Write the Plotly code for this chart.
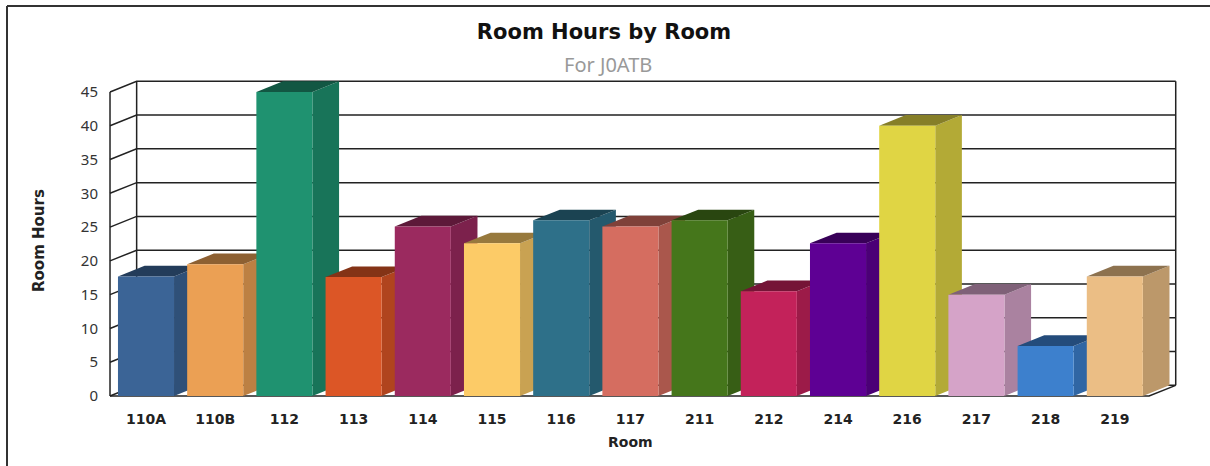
import plotly.graph_objects as go

rooms = ["110A", "110B", "112", "113", "114", "115", "116", "117", "211", "212", "214", "216", "217", "218", "219"]
room_hours = [17.7, 19.5, 45, 17.6, 25.1, 22.6, 26, 25.1, 26, 15.5, 22.6, 40, 15, 7.4, 17.7]
y_ticks = [0, 5, 10, 15, 20, 25, 30, 35, 40, 45]
colors = ["#3B6496", "#EBA054", "#1F9270", "#DC5626", "#9B2A5F", "#FCCB67", "#2E7089", "#D56D60",
          "#45761B", "#C3225A", "#5E0094", "#E0D544", "#D5A3C8", "#3D80CD", "#EBBE85"]

FONT = "DejaVu Sans"
NUM_FONT = "Noto Sans"
INK = "#222222"
DX, DY = 0.385, 1.58      # depth of the 3D projection, in axis units
BAR_W = 0.81
XF, XR = -0.52, 14.88     # front-left corner and back-right corner of the box
X_RANGE = [-0.549, 14.913]
Y_RANGE = [-0.296, 46.92]
PW, PH, ML, MT = 1070, 319, 108, 79


def px(x):
    return (x - ML) / PW


def py(y):
    return 1 + (MT - y) / PH


def shade(hex_color, k):
    r, g, b = (int(hex_color[i:i + 2], 16) for i in (1, 3, 5))
    return f"rgb({int(r * k)},{int(g * k)},{int(b * k)})"


def line(xs, ys):
    return go.Scatter(x=xs, y=ys, mode="lines", line=dict(color=INK, width=1.5),
                      hoverinfo="skip", showlegend=False)


def poly(xs, ys, color):
    return go.Scatter(x=xs, y=ys, mode="lines", fill="toself", fillcolor=color,
                      line=dict(width=0, color=color), hoverinfo="skip", showlegend=False)


fig = go.Figure()

# Box: gridlines with their slanted depth ticks, walls and floor
for v in y_ticks:
    fig.add_trace(line([XF, XF + DX, XR], [v, v + DY, v + DY]))
fig.add_trace(line([XF, XF], [0, y_ticks[-1]]))
fig.add_trace(line([XF + DX, XF + DX], [DY, y_ticks[-1] + DY]))
fig.add_trace(line([XR, XR], [DY, y_ticks[-1] + DY]))
fig.add_trace(line([XF, XR - DX, XR], [0, 0, DY]))

# Side and top faces of each bar, left to right
for i, (v, c) in enumerate(zip(room_hours, colors)):
    xl, xr = i - BAR_W / 2, i + BAR_W / 2
    fig.add_trace(poly([xr, xr + DX, xr + DX, xr, xr], [0, DY, v + DY, v, 0], shade(c, 0.8)))
    fig.add_trace(poly([xl, xl + DX, xr + DX, xr, xl], [v, v + DY, v + DY, v, v], shade(c, 0.6)))

# Front faces on an overlaid pair of axes so they cover the neighbouring side faces
fig.add_trace(go.Bar(x=list(range(len(rooms))), y=room_hours, width=BAR_W,
                     marker=dict(color=colors, line=dict(width=0)),
                     customdata=rooms, hovertemplate="%{customdata}: %{y}<extra></extra>",
                     xaxis="x2", yaxis="y2", showlegend=False))

fig.update_layout(
    width=1210, height=466,
    margin=dict(l=ML, r=1210 - ML - PW, t=MT, b=466 - MT - PH),
    paper_bgcolor="white", plot_bgcolor="white",
    font=dict(family=FONT, color="#333333"),
    title=dict(text="<b>Room Hours by Room</b>", x=604 / 1210, xanchor="center",
               y=1 - 32 / 466, yanchor="middle", font=dict(size=21, color="#111111", family=FONT)),
    xaxis=dict(range=X_RANGE, tickmode="array", tickvals=list(range(len(rooms))),
               ticktext=[f"<b>{r}</b>" for r in rooms], showgrid=False, zeroline=False,
               showline=False, ticks="outside", ticklen=8, tickcolor="rgba(0,0,0,0)",
               tickfont=dict(size=14, color="#222222", family=FONT)),
    yaxis=dict(range=Y_RANGE, tickmode="array", tickvals=y_ticks, showgrid=False, zeroline=False,
               showline=False, ticks="outside", ticklen=6, tickcolor="rgba(0,0,0,0)",
               tickfont=dict(size=15, color="#333333", family=NUM_FONT)),
    xaxis2=dict(overlaying="x", matches="x", visible=False),
    yaxis2=dict(overlaying="y", matches="y", visible=False),
    annotations=[
        dict(text="For J0ATB", xref="paper", yref="paper", x=px(608), y=py(64), xanchor="center",
             yanchor="middle", showarrow=False, font=dict(size=20, color="#999999", family=NUM_FONT)),
        dict(text="<b>Room</b>", xref="paper", yref="paper", x=px(630), y=py(442), xanchor="center",
             yanchor="middle", showarrow=False, font=dict(size=14, color="#222222", family=FONT)),
        dict(text="<b>Room Hours</b>", xref="paper", yref="paper", x=px(39), y=py(241), xanchor="center",
             yanchor="middle", textangle=-90, showarrow=False, font=dict(size=15, color="#222222", family=FONT)),
    ],
    shapes=[
        dict(type="line", xref="paper", yref="paper", x0=px(7), x1=px(1210), y0=py(6), y1=py(6),
             line=dict(color="#333333", width=2)),
        dict(type="line", xref="paper", yref="paper", x0=px(7), x1=px(7), y0=py(6), y1=py(466),
             line=dict(color="#333333", width=2)),
    ],
)

fig.write_html("out.html", config={"displayModeBar": False},
               post_script="document.body.style.margin='0';")
